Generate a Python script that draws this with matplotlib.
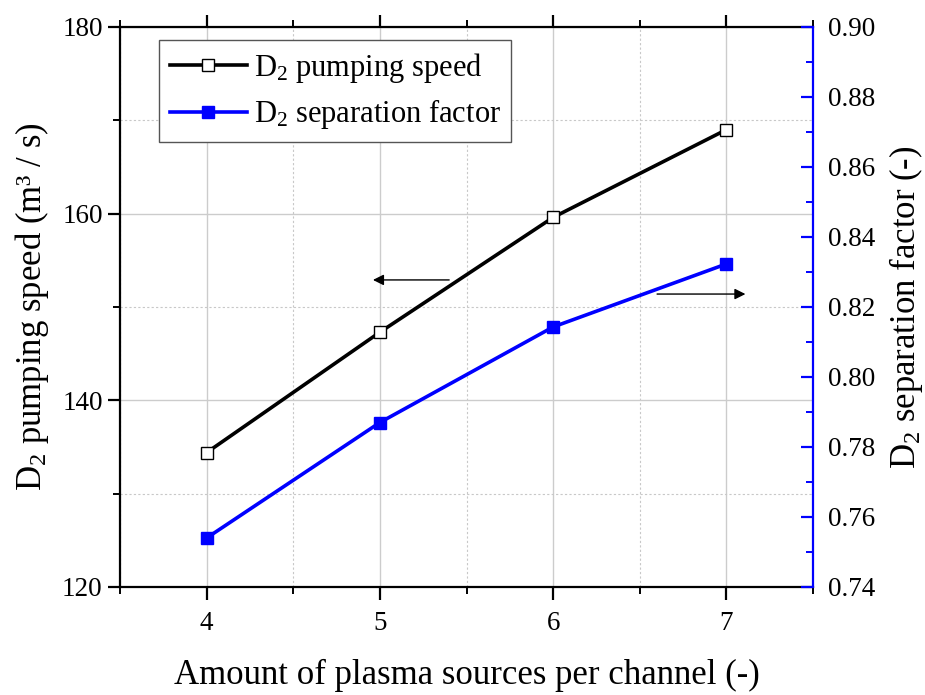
import matplotlib
matplotlib.use("Agg")
import matplotlib.pyplot as plt
from matplotlib.ticker import MultipleLocator

plt.rcParams['font.family'] = ['Liberation Serif', 'DejaVu Serif']
plt.rcParams['mathtext.fontset'] = 'custom'
plt.rcParams['mathtext.rm'] = 'Liberation Serif'
plt.rcParams['mathtext.it'] = 'Liberation Serif:italic'

sources = [4, 5, 6, 7]
pumping_speed = [134.4, 147.3, 159.6, 169.0]
separation_factor = [0.754, 0.787, 0.8143, 0.8323]

left_ticks = [120, 140, 160, 180]
right_ticks = [0.74, 0.76, 0.78, 0.80, 0.82, 0.84, 0.86, 0.88, 0.90]
x_ticks = [4, 5, 6, 7]

fig = plt.figure(figsize=(9.25, 6.95), dpi=100)
ax = fig.add_axes([120/925, 1-587/695, 693/925, 560/695])
ax2 = ax.twinx()

ax.set_xlim(3.5, 7.5)
ax.set_ylim(120, 180)
ax2.set_ylim(0.74, 0.90)

ax.set_xticks(x_ticks)
ax.xaxis.set_minor_locator(MultipleLocator(0.5))
ax.set_yticks(left_ticks)
ax.yaxis.set_minor_locator(MultipleLocator(10))
ax2.set_yticks(right_ticks)
ax2.set_yticklabels([f"{v:.2f}" for v in right_ticks])
ax2.yaxis.set_minor_locator(MultipleLocator(0.01))

ax.grid(which='major', color='#cccccc', lw=1.0, ls='-')
ax.grid(which='minor', color='#c8c8c8', lw=0.8, ls=(0, (2, 2)))
ax.set_axisbelow(True)

l1, = ax.plot(sources, pumping_speed, color='black', lw=2.6, marker='s', ms=8.5,
              mfc='white', mec='black', mew=1.0, label='D$_2$ pumping speed', zorder=3)
l2, = ax2.plot(sources, separation_factor, color='#0000ff', lw=2.6, marker='s', ms=8.5,
               mfc='#0000ff', mec='#0000ff', label='D$_2$ separation factor', zorder=3)

for s in ['left', 'bottom', 'top']:
    ax.spines[s].set_linewidth(1.6)
    ax.spines[s].set_color('black')
ax.spines['right'].set_visible(False)
for s in ['left', 'bottom', 'top']:
    ax2.spines[s].set_visible(False)
ax2.spines['right'].set_color('#0000ff')
ax2.spines['right'].set_linewidth(1.6)

ax.tick_params(axis='both', which='major', direction='out', length=9, width=1.6,
               labelsize=19.5, top=True, right=False)
ax.tick_params(axis='both', which='minor', direction='out', length=5, width=1.4,
               top=True, right=False)
ax.tick_params(axis='x', which='major', pad=8)
ax2.tick_params(axis='y', which='major', direction='in', length=9, width=1.6,
                color='#0000ff', labelsize=19.5, labelcolor='black', pad=11)
ax2.tick_params(axis='y', which='minor', direction='in', length=5, width=1.4,
                color='#0000ff')

ax.set_xlabel('Amount of plasma sources per channel (-)', fontsize=25, labelpad=17)
ax.set_ylabel('D$_2$ pumping speed (m³ / s)', fontsize=25, labelpad=8)
ax2.set_ylabel('D$_2$ separation factor (-)', fontsize=25, labelpad=8)

# direction arrows
left_arrow_start = (5.40, 152.9)
left_arrow_end = (4.96, 152.9)
right_arrow_start = (6.60, 0.8237)
right_arrow_end = (7.11, 0.8237)
ax.annotate('', xy=left_arrow_end, xytext=left_arrow_start,
            arrowprops=dict(arrowstyle='-|>', color='black', lw=1.0, mutation_scale=16,
                            shrinkA=0, shrinkB=0))
ax2.annotate('', xy=right_arrow_end, xytext=right_arrow_start,
             arrowprops=dict(arrowstyle='-|>', color='black', lw=1.0, mutation_scale=16,
                             shrinkA=0, shrinkB=0))

leg = ax.legend(handles=[l1, l2], loc='upper left', bbox_to_anchor=(0.056, 0.977),
                fontsize=22, frameon=True, fancybox=False, edgecolor='#555555',
                framealpha=1, handlelength=2.55, handletextpad=0.2, borderpad=0.35,
                labelspacing=0.42, borderaxespad=0)
leg.get_frame().set_linewidth(1.0)

fig.savefig('out.png', dpi=100)
